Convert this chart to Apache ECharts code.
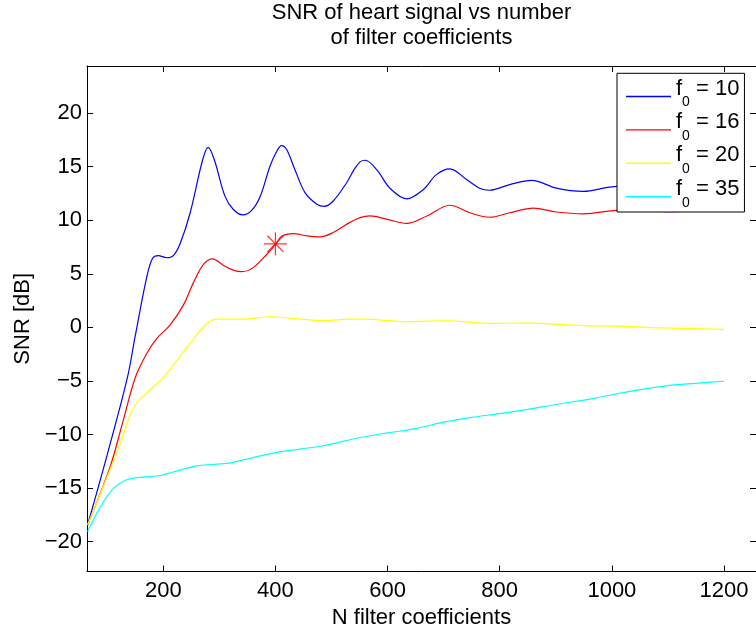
<!DOCTYPE html>
<html>
<head>
<meta charset="utf-8">
<title>SNR of heart signal vs number of filter coefficients</title>
<script src="https://cdn.jsdelivr.net/npm/echarts@6/dist/echarts.min.js"></script>
<style>
  html, body { margin: 0; padding: 0; background: #ffffff; }
  #chart { width: 756px; height: 634px; }
</style>
</head>
<body>
<div id="chart"></div>
<script>
// Tick positions on the two axes
const xTicks = [200, 400, 600, 800, 1000, 1200];
const yTicks = [-20, -15, -10, -5, 0, 5, 10, 15, 20];

// Cut-off frequencies f0, one curve each
const f0Values = [10, 16, 20, 35];

// SNR [dB] against number of filter coefficients N, f0 = 10
const nF10 = [65, 100, 136, 150, 171, 181, 191, 206, 218, 230, 248, 270, 280, 291, 310, 325, 342, 358, 373, 390, 401, 411, 420, 435, 453, 474, 487, 503, 527, 540, 551, 560, 581, 604, 634, 664, 687, 711, 741, 765, 782, 818, 857, 901, 949, 996, 1030, 1070, 1110, 1150, 1200];
const snrF10 = [-18.45, -11.9, -4.7, -0.8, 4.8, 6.45, 6.7, 6.5, 6.7, 7.8, 10.7, 15.6, 16.8, 15.65, 12.25, 11.0, 10.5, 10.95, 12.25, 15.0, 16.3, 16.97, 16.6, 14.7, 12.56, 11.5, 11.3, 11.8, 13.5, 14.7, 15.45, 15.6, 14.7, 13.0, 12.0, 12.87, 14.26, 14.8, 13.8, 12.96, 12.8, 13.33, 13.73, 13.0, 12.7, 13.1, 13.2, 13.0, 12.85, 13.0, 13.1];

// f0 = 16
const nF16 = [65, 105, 128, 150, 171, 189, 212, 236, 254, 272, 288, 307, 325, 340, 361, 385, 401, 411, 432, 456, 480, 503, 533, 551, 569, 598, 634, 670, 711, 747, 782, 818, 860, 901, 949, 1008, 1050, 1100, 1150, 1200];
const snrF16 = [-18.45, -13.05, -8.8, -4.7, -2.4, -1.0, 0.2, 2.1, 4.2, 5.9, 6.4, 5.8, 5.35, 5.2, 5.6, 6.85, 7.8, 8.5, 8.75, 8.55, 8.45, 8.85, 9.8, 10.25, 10.4, 10.1, 9.7, 10.4, 11.4, 10.7, 10.28, 10.7, 11.14, 10.77, 10.6, 10.93, 11.0, 10.8, 10.9, 11.0];

// f0 = 20
const nF20 = [65, 105, 123, 147, 171, 200, 230, 260, 278, 296, 343, 390, 432, 486, 533, 557, 634, 705, 782, 848, 949, 1014, 1073, 1200];
const snrF20 = [-18.45, -13.3, -10.9, -7.5, -6.1, -4.7, -2.7, -0.7, 0.37, 0.77, 0.77, 0.99, 0.83, 0.62, 0.77, 0.77, 0.53, 0.62, 0.37, 0.4, 0.16, 0.12, -0.03, -0.19];

// f0 = 35
const nF35 = [65, 88, 111, 135, 159, 195, 218, 260, 313, 349, 402, 444, 486, 551, 600, 650, 700, 750, 800, 850, 900, 950, 980, 1040, 1100, 1150, 1200];
const snrF35 = [-19.07, -16.76, -15.06, -14.23, -14.0, -13.83, -13.5, -12.93, -12.7, -12.3, -11.67, -11.36, -11.05, -10.28, -9.85, -9.45, -8.85, -8.4, -8.05, -7.65, -7.2, -6.8, -6.5, -5.9, -5.43, -5.22, -5.03];

// Highlighted operating point on the f0 = 16 curve
const markerN = [400];
const markerSnr = [7.8];

const FONT = '"Liberation Sans", Arial, Helvetica, sans-serif';
const lineColors = ['#0000ff', '#ff0000', '#ffff00', '#00ffff'];
const curveN = [nF10, nF16, nF20, nF35];
const curveSnr = [snrF10, snrF16, snrF20, snrF35];
const seriesNames = f0Values.map(f => 'f0 = ' + f);

const minusFmt = v => (v < 0 ? '\u2212' + Math.abs(v) : String(v));
const plainFmt = v => String(v);

const X_MIN = 64, X_MAX = 1257;
const Y_MIN = -22.8, Y_MAX = 24.4;

const frameLine = { show: true, onZero: false, lineStyle: { color: '#000', width: 1 } };

const lineSeries = curveN.map((ns, k) => ({
  type: 'line',
  name: seriesNames[k],
  data: ns.map((n, i) => [n, curveSnr[k][i]]),
  showSymbol: false,
  symbol: 'none',
  smooth: 0.35,
  lineStyle: { color: lineColors[k], width: 1.2 },
  itemStyle: { color: lineColors[k] },
  z: 2
}));

const markerSeries = {
  type: 'scatter',
  name: 'marker',
  data: markerN.map((n, i) => [n, markerSnr[i]]),
  symbol: 'path://M0 -10L0 10M-10 0L10 0M-7 -7L7 7M-7 7L7 -7',
  symbolSize: 23,
  itemStyle: { color: 'none', borderColor: '#ff0000', borderWidth: 1.2 },
  silent: true,
  z: 3
};

const chart = echarts.init(document.getElementById('chart'), null, { renderer: 'canvas' });

chart.setOption({
  animation: false,
  backgroundColor: '#ffffff',
  textStyle: { fontFamily: FONT },
  title: {
    text: 'SNR of heart signal vs number\nof filter coefficients',
    left: 421.5,
    top: 0,
    padding: 0,
    textAlign: 'center',
    textStyle: { fontFamily: FONT, fontSize: 22, fontWeight: 'normal', color: '#000', lineHeight: 25 }
  },
  grid: { left: 87, right: -1, top: 66, bottom: 59, containLabel: false },
  legend: {
    data: seriesNames.map((n, k) => ({ name: n, icon: 'rect', itemStyle: { color: lineColors[k] } })),
    orient: 'vertical',
    left: 617,
    top: 73.3,
    padding: [4.2, 5, 2.3, 9],
    itemGap: 1.4,
    itemWidth: 45,
    itemHeight: 1.4,
    backgroundColor: '#ffffff',
    borderColor: '#000',
    borderWidth: 1,
    borderRadius: 0,
    selectedMode: false,
    formatter: name => '{f|f}{sub|0}{f|' + name.slice(2) + '}',
    textStyle: {
      color: '#000',
      fontFamily: FONT,
      fontSize: 22,
      rich: {
        f: { fontFamily: FONT, fontSize: 22, lineHeight: 22, color: '#000', verticalAlign: 'top' },
        sub: { fontFamily: FONT, fontSize: 14, color: '#000', padding: [18, 0, 6, 0], verticalAlign: 'top' }
      }
    }
  },
  xAxis: [
    {
      type: 'value', position: 'bottom', min: X_MIN, max: X_MAX,
      splitLine: { show: false },
      axisLine: frameLine,
      axisTick: { show: true, inside: true, length: 6, lineStyle: { color: '#000' }, customValues: xTicks },
      axisLabel: { customValues: xTicks, color: '#000', fontSize: 22, fontFamily: FONT, margin: 8.5, formatter: plainFmt },
      name: 'N filter coefficients',
      nameLocation: 'middle',
      nameGap: 30.5,
      nameTextStyle: { color: '#000', fontSize: 22, fontFamily: FONT }
    },
    {
      type: 'value', position: 'top', min: X_MIN, max: X_MAX,
      splitLine: { show: false },
      axisLine: frameLine,
      axisTick: { show: true, inside: true, length: 6, lineStyle: { color: '#000' }, customValues: xTicks },
      axisLabel: { show: false }
    }
  ],
  yAxis: [
    {
      type: 'value', position: 'left', min: Y_MIN, max: Y_MAX,
      splitLine: { show: false },
      axisLine: frameLine,
      axisTick: { show: true, inside: true, length: 6, lineStyle: { color: '#000' }, customValues: yTicks },
      axisLabel: { customValues: yTicks, color: '#000', fontSize: 22, fontFamily: FONT, margin: 5, formatter: minusFmt },
      name: 'SNR [dB]',
      nameLocation: 'middle',
      nameGap: 53,
      nameTextStyle: { color: '#000', fontSize: 22, fontFamily: FONT }
    },
    {
      type: 'value', position: 'right', min: Y_MIN, max: Y_MAX,
      splitLine: { show: false },
      axisLine: frameLine,
      axisTick: { show: true, inside: true, length: 6, lineStyle: { color: '#000' }, customValues: yTicks },
      axisLabel: { show: false }
    }
  ],
  series: lineSeries.concat([markerSeries])
});
</script>
</body>
</html>
